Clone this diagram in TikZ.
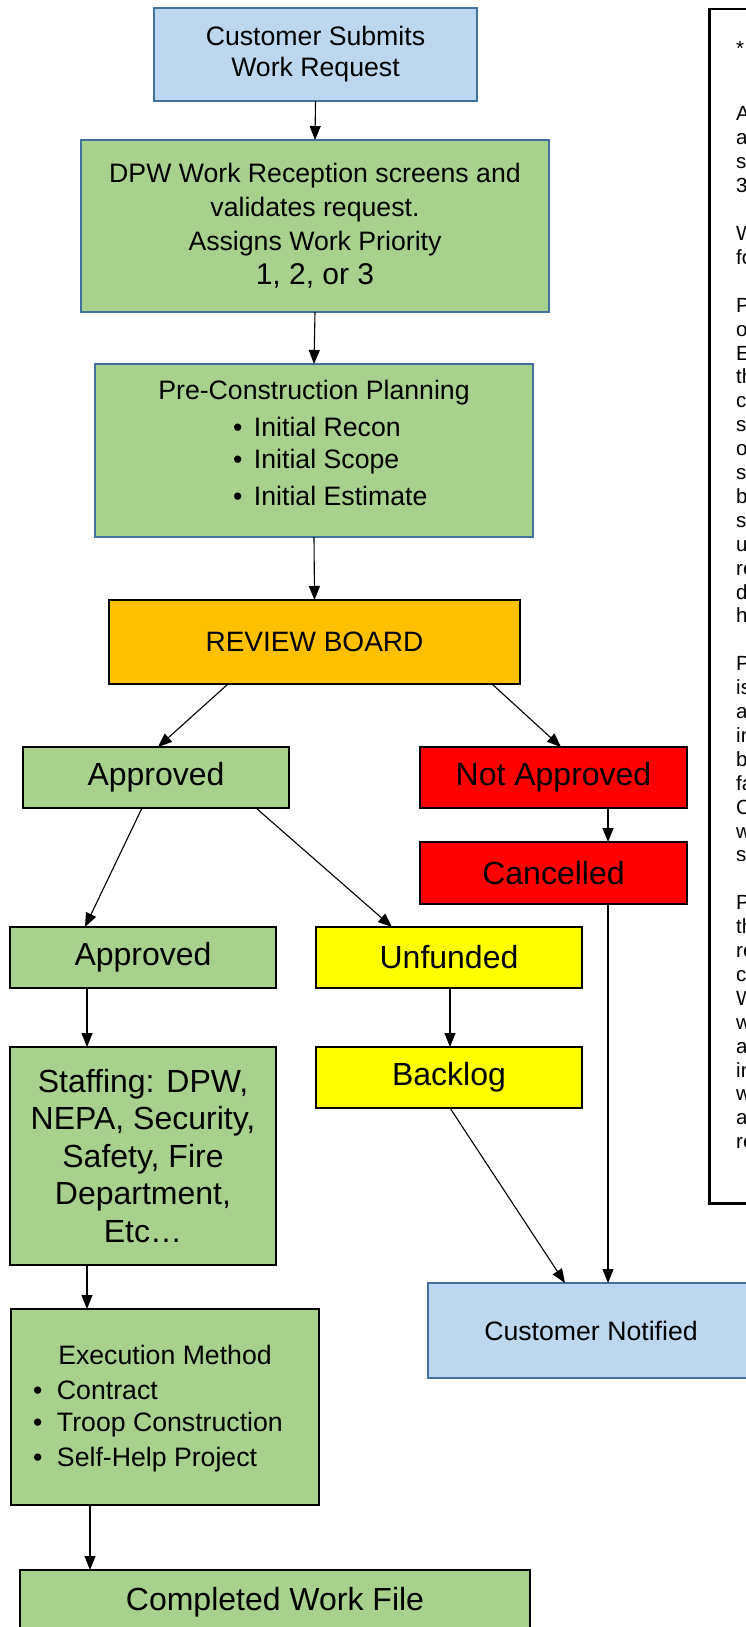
\documentclass[tikz,border=0pt]{standalone}
\usepackage{fontspec}
\setmainfont{Liberation Sans}
\usetikzlibrary{arrows.meta}
\definecolor{lblue}{HTML}{BDD7EE}
\definecolor{bborder}{HTML}{41719C}
\definecolor{lgreen}{HTML}{A9D18E}
\definecolor{orng}{HTML}{FFC000}
\definecolor{rd}{HTML}{FF0000}
\definecolor{yl}{HTML}{FFFF00}
\tikzset{
 box/.style={draw=black, line width=2pt, inner sep=0pt, outer sep=0pt, align=center},
 bbox/.style={box, draw=bborder},
 arr/.style={line width=1.1pt, -{Triangle[width=11pt,length=14pt]}},
 ftwenty/.style={font=\fontsize{26.67}{31}\selectfont},
 ftwentyfour/.style={font=\fontsize{32}{32}\selectfont},
 notetext/.style={font=\fontsize{20.5}{24}\selectfont, inner sep=0pt},
 lbl/.style={inner sep=0pt, outer sep=0pt},
}
\begin{document}
\begin{tikzpicture}[x=1pt,y=-1pt]
\useasboundingbox (0,0) rectangle (746,1627);
\begin{scope}
\clip (0,0) rectangle (746,1627);

% boxes
\node[bbox, fill=lblue, minimum width=323, minimum height=93, ftwenty] (cust) at (315.5,54.5) {Customer Submits\\Work Request};
\node[bbox, fill=lgreen, minimum width=468, minimum height=172, ftwenty, align=center] (dpw) at (315,226)
 {DPW Work Reception screens and\\[3pt]validates request.\\[3pt]Assigns Work Priority\\[3pt]{\fontsize{30}{31}\selectfont 1, 2, or 3}};
\node[bbox, fill=lgreen, minimum width=438, minimum height=173] (pre) at (314,450.5) {};
\node[box, fill=orng, minimum width=411, minimum height=84, font=\fontsize{28}{32}\selectfont] (review) at (314.5,642) {REVIEW BOARD};
\node[box, fill=lgreen, minimum width=266, minimum height=61, ftwentyfour] (appr1) at (156,777.5) {Approved};
\node[box, fill=rd, minimum width=267, minimum height=61, ftwentyfour] (notappr) at (553.5,777.5) {Not Approved};
\node[box, fill=rd, minimum width=267, minimum height=62, ftwentyfour] (cancel) at (553.5,873) {Cancelled};
\node[box, fill=lgreen, minimum width=266, minimum height=61, ftwentyfour] (appr2) at (143,957.5) {Approved};
\node[box, fill=yl, minimum width=266, minimum height=61, ftwentyfour] (unfund) at (449,957.5) {Unfunded};
\node[box, fill=lgreen, minimum width=266, minimum height=218, font=\fontsize{32}{37.5}\selectfont] (staff) at (143,1156)
 {Staffing: DPW,\\NEPA, Security,\\Safety, Fire\\Department,\\Etc…};
\node[box, fill=yl, minimum width=266, minimum height=61, ftwentyfour] (backlog) at (449,1077.5) {Backlog};
\node[bbox, fill=lblue, minimum width=326, minimum height=95, ftwenty] (custnot) at (591,1330.5) {Customer Notified};
\node[box, fill=lgreen, minimum width=308, minimum height=196] (exec) at (165,1407) {};
\node[box, fill=lgreen, minimum width=510, minimum height=64, ftwentyfour] (compl) at (275,1602) {Completed Work File};

% texts inside list boxes
\node[lbl, ftwenty] (pretitle) at (314,393) {Pre-Construction Planning};
\node[lbl, ftwenty, anchor=west] (pre1) at (233,427) {\makebox[21pt][l]{•}Initial Recon};
\node[lbl, ftwenty, anchor=west] (pre2) at (233,462) {\makebox[21pt][l]{•}Initial Scope};
\node[lbl, ftwenty, anchor=west] (pre3) at (233,496) {\makebox[21pt][l]{•}Initial Estimate};

\node[lbl, ftwenty] (exectitle) at (165,1355) {Execution Method};
\node[lbl, ftwenty, anchor=west] (exec1) at (33,1390) {\makebox[24pt][l]{•}Contract};
\node[lbl, ftwenty, anchor=west] (exec2) at (33,1425) {\makebox[24pt][l]{•}Troop Construction};
\node[lbl, ftwenty, anchor=west] (exec3) at (33,1460) {\makebox[24pt][l]{•}Self-Help Project};

% notes frame
\node[draw=black, line width=2.5pt, inner sep=0pt, minimum width=112, minimum height=1194, anchor=north west] (frame) at (708,8) {};
\node[notetext, anchor=base west] (star) at (736,56) {*};
\foreach \k/\t in {0/A,1/a,2/s,3/3,5/W,6/fo,8/P,9/o,10/E,11/th,12/c,13/s,14/o,15/s,16/b,17/s,18/u,19/re,20/d,21/h,23/P,24/is,25/a,26/in,27/b,28/fa,29/C,30/w,31/s,33/P,34/th,35/re,36/c,37/W,38/w,39/a,40/in,41/w,42/a,43/re}
  \node[notetext, anchor=base west] (note\k) at (736,121+23.9*\k) {\t};

% x positions for connectors
\coordinate (xa) at (228,0);
\coordinate (xb) at (158,0);
\coordinate (xc) at (492,0);
\coordinate (xd) at (561,0);
\coordinate (xe) at (608,0);
\coordinate (xf) at (142,0);
\coordinate (xg) at (85,0);
\coordinate (xh) at (256,0);
\coordinate (xi) at (392,0);
\coordinate (xj) at (87,0);
\coordinate (xk) at (450,0);
\coordinate (xl) at (565,0);
\coordinate (xm) at (90,0);

% connectors
\draw[arr] (cust.south) -- (dpw.north);
\draw[arr] (dpw.south) -- (pre.north);
\draw[arr] (pre.south) -- (review.north);
\draw[arr] (review.south -| xa) -- (appr1.north -| xb);
\draw[arr] (review.south -| xc) -- (notappr.north -| xd);
\draw[arr] (notappr.south -| xe) -- (cancel.north -| xe);
\draw[arr] (appr1.south -| xf) -- (appr2.north -| xg);
\draw[arr] (appr1.south -| xh) -- (unfund.north -| xi);
\draw[arr] (appr2.south -| xj) -- (staff.north -| xj);
\draw[arr] (unfund.south -| xk) -- (backlog.north -| xk);
\draw[arr] (backlog.south -| xk) -- (custnot.north -| xl);
\draw[arr] (cancel.south -| xe) -- (custnot.north -| xe);
\draw[arr] (staff.south -| xj) -- (exec.north -| xj);
\draw[arr] (exec.south -| xm) -- (compl.north -| xm);
\end{scope}
\end{tikzpicture}
\end{document}
